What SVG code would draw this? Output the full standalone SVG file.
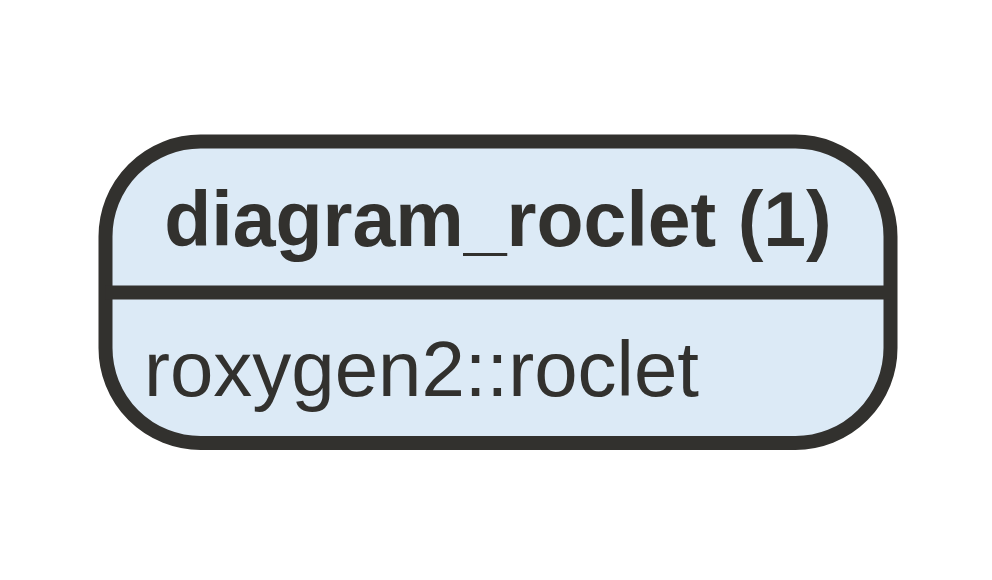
<svg xmlns="http://www.w3.org/2000/svg" width="992" height="580" viewBox="0 0 992 580">
<style>
.box{fill:#dceaf6;stroke:#32312e;stroke-width:14}
.div{stroke:#32312e;stroke-width:14}
.t{font-family:"Liberation Sans",Arial,sans-serif;fill:#32312e;font-size:77px}
.b{font-weight:bold}
.r{font-size:78px}
</style>
<rect width="992" height="580" fill="#ffffff"/>
<g id="node-diagram_roclet">
<rect class="box" x="105.5" y="141.5" width="785" height="301.5" rx="95" ry="95"/>
<line class="div" x1="105.5" y1="292.5" x2="890.5" y2="292.5"/>
<text class="t b" x="498" y="246" text-anchor="middle">diagram_roclet (1)</text>
<text class="t r" x="144" y="396">roxygen2::roclet</text>
</g>
<g id="connectors"/>
</svg>
